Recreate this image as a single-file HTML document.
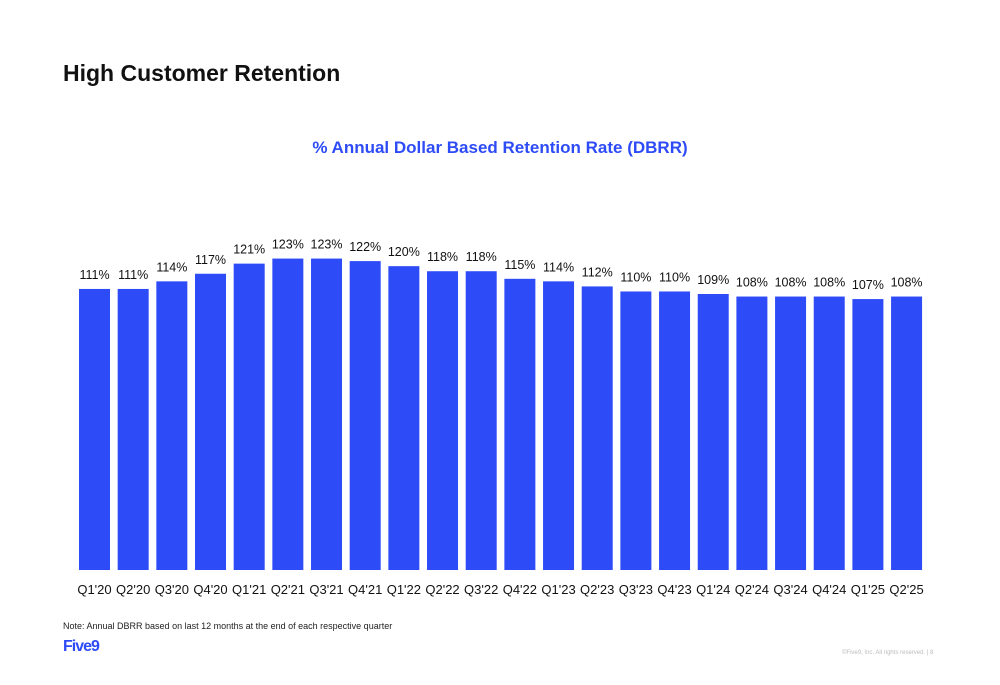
<!DOCTYPE html>
<html><head><meta charset="utf-8"><style>
body{margin:0;width:1000px;height:685px;background:#fff;font-family:"Liberation Sans",sans-serif;position:relative;overflow:hidden}
.t{position:absolute;left:63px;top:60px;font-size:23px;font-weight:bold;color:#111}
.st{position:absolute;left:0;width:1000px;top:138px;text-align:center;font-size:17px;font-weight:bold;color:#2d4bf7}
.note{position:absolute;left:63px;top:621px;font-size:9px;color:#222}
.logo{position:absolute;left:63px;top:638px;font-size:16px;font-weight:bold;color:#2d4bf7;letter-spacing:-1px}
.cp{position:absolute;left:842px;top:650px;font-size:6px;color:#bbb}
</style></head><body>
<div class="t">High Customer Retention</div>
<div class="st">% Annual Dollar Based Retention Rate (DBRR)</div>
<svg id="c" width="1000" height="685" style="position:absolute;left:0;top:0"></svg>
<div class="note">Note: Annual DBRR based on last 12 months at the end of each respective quarter</div>
<div class="logo">Five9</div>
<div class="cp">©Five9, Inc. All rights reserved. | 8</div>
<script>
const categories=["Q1'20","Q2'20","Q3'20","Q4'20","Q1'21","Q2'21","Q3'21","Q4'21","Q1'22","Q2'22","Q3'22","Q4'22","Q1'23","Q2'23","Q3'23","Q4'23","Q1'24","Q2'24","Q3'24","Q4'24","Q1'25","Q2'25"];
const values=[111,111,114,117,121,123,123,122,120,118,118,115,114,112,110,110,109,108,108,108,107,108];
const svg=document.getElementById('c');const NS='http://www.w3.org/2000/svg';
const x0=79,step=38.67,bw=31,base=570,k=2.532;
function xs(i){return x0+i*step}
function ys(v){return base-v*k}
values.forEach((v,i)=>{
 const r=document.createElementNS(NS,'rect');
 r.setAttribute('x',xs(i));r.setAttribute('y',ys(v));r.setAttribute('width',bw);r.setAttribute('height',base-ys(v));r.setAttribute('fill','#2d4bf7');
 
 
 svg.appendChild(r);
 const t=document.createElementNS(NS,'text');
 t.setAttribute('x',xs(i)+bw/2);t.setAttribute('y',ys(v)-10);t.setAttribute('text-anchor','middle');t.setAttribute('font-size','12.5');t.setAttribute('fill','#111');t.setAttribute('font-family','Liberation Sans, sans-serif');
 t.textContent=v+'%';
 
 
 svg.appendChild(t);
 const c=document.createElementNS(NS,'text');
 c.setAttribute('x',xs(i)+bw/2);c.setAttribute('y',594);c.setAttribute('text-anchor','middle');c.setAttribute('font-size','13');c.setAttribute('fill','#111');c.setAttribute('font-family','Liberation Sans, sans-serif');
 c.textContent=categories[i];
 
 
 svg.appendChild(c);
});
</script>
</body></html>
